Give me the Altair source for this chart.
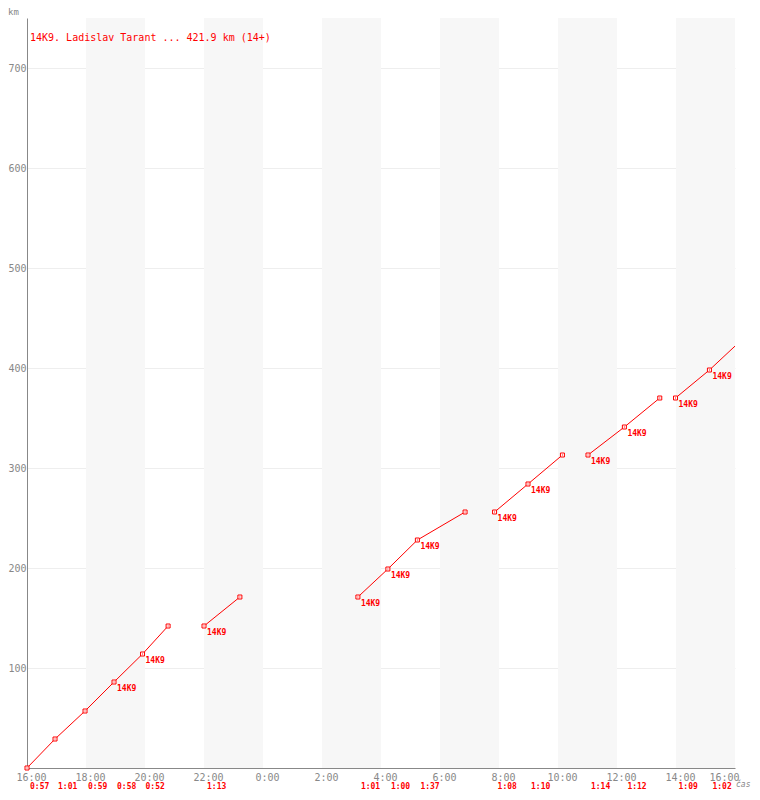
import altair as alt
import pandas as pd

# ---- data ----
segment = [1, 1, 1, 1, 1, 1, 2, 2, 3, 3, 3, 3, 4, 4, 4, 5, 5, 5, 6, 6, 6]
minutes = [0, 57, 118, 177, 235, 287, 360, 433, 673, 734, 794, 891,
           951, 1019, 1089, 1141, 1215, 1287, 1319, 1388, 1440]  # minutes after 16:00
km = [0, 29, 57, 86, 114, 142, 142, 171, 171, 199, 228, 256,
      256, 284, 313, 313, 341, 370, 370, 398, 421.9]
marker = [1] * 20 + [0]
tagged = [0, 0, 0, 1, 1, 0, 1, 0, 1, 1, 1, 0, 1, 1, 0, 1, 1, 0, 1, 1, 0]
durations = ["0:57", "1:01", "0:59", "0:58", "0:52", "1:13", "1:01", "1:00",
             "1:37", "1:08", "1:10", "1:14", "1:12", "1:09", "1:02"]
band_starts = [2, 6, 10, 14, 18, 22]  # hours after 16:00 (shaded 2h bands)
title_text = "14K9. Ladislav Tarant ... 421.9 km (14+)"
tag_text = "14K9"

RED = "#ff0000"
GRAY = "#888888"
MONO = "DejaVu Sans Mono"
W, H = 708, 750

df = pd.DataFrame({"seg": segment, "h": [m / 60 for m in minutes], "km": km,
                   "marker": marker, "tagged": tagged})
df["tag"] = [tag_text if t else "" for t in tagged]

# hop starts: points followed by another point of the same segment
hop_idx = [i for i in range(len(segment) - 1) if segment[i] == segment[i + 1]]
dur_df = pd.DataFrame({"h": [minutes[i] / 60 for i in hop_idx], "txt": durations})

bands = pd.DataFrame({"a": band_starts, "b": [s + 2 for s in band_starts]})

xs = alt.Scale(domain=[0, 24], nice=False, zero=False)
ys = alt.Scale(domain=[0, 750], nice=False, zero=False)

band_layer = alt.Chart(bands).mark_rect(color="#f7f7f7").encode(
    x=alt.X("a:Q", scale=xs,
            axis=alt.Axis(values=list(range(0, 25, 2)),
                          labelExpr="((16 + datum.value) % 24) + ':00'",
                          title=None, grid=False, ticks=False,
                          domainColor=GRAY, labelColor=GRAY, labelFont=MONO,
                          labelFontSize=10, labelPadding=4, labelOffset=4,
                          labelAlign={"condition": {"test": "datum.value == 24", "value": "right"},
                                      "value": "center"},
                          labelOverlap=False, labelFlush=False, labelBound=False)),
    x2="b:Q",
    y=alt.value(0), y2=alt.value(H),
)

base = alt.Chart(df)

line = base.mark_line(color=RED, strokeWidth=1).encode(
    x=alt.X("h:Q", scale=xs),
    y=alt.Y("km:Q", scale=ys,
            axis=alt.Axis(values=list(range(100, 701, 100)), title=None,
                          grid=True, gridColor="#eeeeee", ticks=False,
                          domainColor=GRAY, labelColor=GRAY, labelFont=MONO,
                          labelFontSize=10, labelPadding=1)),
    detail="seg:N",
    order="h:Q",
)

squares = base.transform_filter("datum.marker == 1").mark_point(
    shape="square", size=16, filled=False, stroke=RED, strokeWidth=1,
    fill="white", fillOpacity=1, opacity=1
).encode(x=alt.X("h:Q", scale=xs), y=alt.Y("km:Q", scale=ys))

dots = base.transform_filter("datum.marker == 1").mark_point(
    shape="square", size=1, filled=True, color=RED, opacity=1
).encode(x=alt.X("h:Q", scale=xs), y=alt.Y("km:Q", scale=ys))

tags = base.transform_filter("datum.tagged == 1").mark_text(
    align="left", baseline="middle", dx=3, dy=7, color=RED,
    font=MONO, fontSize=8, fontWeight="bold"
).encode(x=alt.X("h:Q", scale=xs), y=alt.Y("km:Q", scale=ys), text="tag:N")

dur = alt.Chart(dur_df).mark_text(
    align="left", baseline="middle", dx=3, color=RED,
    font=MONO, fontSize=8, fontWeight="bold"
).encode(x=alt.X("h:Q", scale=xs), y=alt.value(H + 19), text="txt:N")

title = alt.Chart(pd.DataFrame({"t": [title_text]})).mark_text(
    align="left", baseline="middle", color=RED, font=MONO, fontSize=10
).encode(x=alt.value(3), y=alt.value(20), text="t:N")

km_lbl = alt.Chart(pd.DataFrame({"t": ["km"]})).mark_text(
    align="left", baseline="middle", color=GRAY, font=MONO, fontSize=9
).encode(x=alt.value(-19), y=alt.value(-6), text="t:N")

cas_lbl = alt.Chart(pd.DataFrame({"t": ["čas"]})).mark_text(
    align="left", baseline="middle", color=GRAY, font=MONO, fontSize=8,
    fontStyle="italic"
).encode(x=alt.value(W + 1), y=alt.value(H + 17), text="t:N")

chart = alt.layer(band_layer, line, squares, dots, tags, dur, title, km_lbl, cas_lbl).properties(
    width=W, height=H,
    autosize=alt.AutoSizeParams(type="none"),
    padding={"left": 19, "top": 10, "right": 17, "bottom": 24},
    background="white",
).configure_view(stroke=None)

chart.save("out.html", embed_options={"renderer": "svg", "actions": False})
